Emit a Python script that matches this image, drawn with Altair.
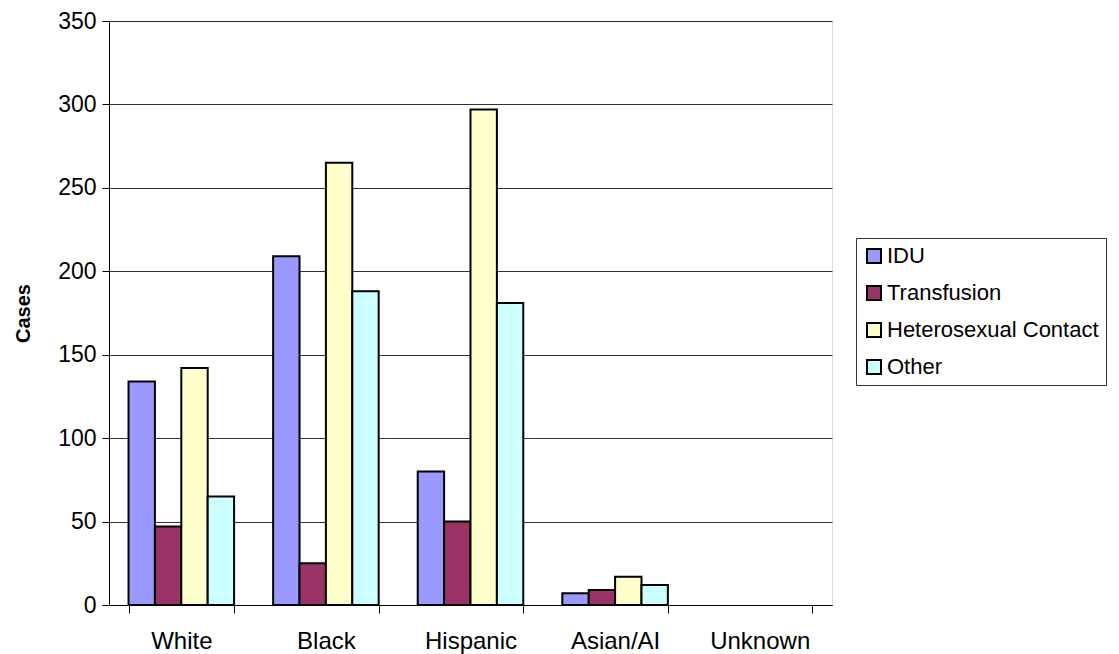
import altair as alt
import pandas as pd

categories = ["White", "Black", "Hispanic", "Asian/AI", "Unknown"]
series = ["IDU", "Transfusion", "Heterosexual Contact", "Other"]
idu = [134, 209, 80, 7, 0]
transfusion = [47, 25, 50, 9, 0]
hetero = [142, 265, 297, 17, 0]
other = [65, 188, 181, 12, 0]
colors = ["#9999FF", "#993366", "#FFFFCC", "#CCFFFF"]

rows = []
for s, vals in zip(series, [idu, transfusion, hetero, other]):
    for c, v in zip(categories, vals):
        rows.append({"Category": c, "Series": s, "Cases": v})
df = pd.DataFrame(rows)

FONT = "Liberation Sans"

chart = alt.Chart(df).mark_bar(stroke="black").encode(
    x=alt.X("Category:N", sort=categories,
            scale=alt.Scale(paddingInner=0.27, paddingOuter=0.135),
            axis=alt.Axis(title=None, labelAngle=0, tickBand="extent",
                          labelFontSize=24, labelPadding=16, tickSize=8,
                          domainColor="black", tickColor="black",
                          labelColor="black", labelFont=FONT, grid=False)),
    xOffset=alt.XOffset("Series:N", sort=series,
                        scale=alt.Scale(paddingInner=0, paddingOuter=0)),
    y=alt.Y("Cases:Q", scale=alt.Scale(domain=[0, 350], nice=False),
            axis=alt.Axis(values=[0, 50, 100, 150, 200, 250, 300, 350],
                          title="Cases", titleFontSize=20, titleFont=FONT,
                          titleFontWeight="bold", titleColor="black",
                          titlePadding=24,
                          labelFontSize=23, labelFont=FONT, labelColor="black",
                          labelPadding=6, tickSize=7, tickColor="black",
                          domainColor="black", gridColor="#000000",
                          gridWidth=1, gridOpacity=0.8)),
    strokeWidth=alt.condition("datum.Cases > 0", alt.value(2), alt.value(0)),
    color=alt.Color("Series:N", sort=series,
                    scale=alt.Scale(domain=series, range=colors),
                    legend=alt.Legend(title=None, orient="none",
                                      legendX=747, legendY=217,
                                      strokeColor="#333333", padding=7,
                                      labelFontSize=22, labelFont=FONT,
                                      labelColor="black", labelLimit=0,
                                      symbolType="square", symbolSize=196,
                                      symbolStrokeColor="black",
                                      symbolStrokeWidth=2, symbolOpacity=1,
                                      rowPadding=15, labelOffset=2,
                                      fillColor="white")),
).properties(
    width=723, height=584,
    padding={"left": 5, "top": 2, "right": 0, "bottom": 5},
).configure_view(
    fill="#C0C0C0", stroke="#808080", strokeWidth=1
).configure(
    background="white"
)

chart.save("out.html", embed_options={"renderer": "svg", "actions": False})
